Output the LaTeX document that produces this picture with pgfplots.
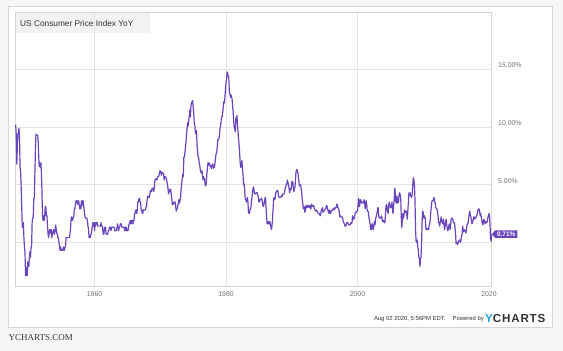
\documentclass[border=0pt]{standalone}
\usepackage{fontspec}
\setmainfont{Liberation Sans}
\newfontfamily\serifft{Liberation Serif}
\usepackage{pgfplots}
\pgfplotsset{compat=1.18}
\usetikzlibrary{shapes.symbols}
\definecolor{cpi}{HTML}{6A46BC}
\definecolor{gridc}{HTML}{E4E4E4}
\definecolor{framec}{HTML}{D6D6D6}
\definecolor{bgc}{HTML}{F6F6F6}
\definecolor{tickc}{HTML}{727272}
\definecolor{titlebg}{HTML}{F2F2F2}
\definecolor{yc}{HTML}{22A6D8}
\definecolor{txt}{HTML}{333333}
\begin{document}
\begin{tikzpicture}[x=1pt,y=1pt]
\useasboundingbox (0,0) rectangle (563,351);
\fill[bgc] (0,0) rectangle (563,351);
\filldraw[fill=white, draw=framec, line width=0.8pt] (8.5,24) rectangle (552.5,345);
\fill[titlebg] (15.7,318) rectangle (150,339);
\node[anchor=west, inner sep=0, font=\fontsize{8.3}{10}\selectfont, text=txt] at (20,327) {US Consumer Price Index YoY};
\begin{axis}[
  at={(15.7pt,65pt)}, anchor=south west, scale only axis,
  width=476pt, height=274pt,
  xmin=1948, xmax=2020.42, ymin=-3.8, ymax=20,
  clip=false,
  axis line style={draw=framec, line width=0.6pt},
  xtick={1960,1980,2000}, xticklabels={1960,1980,2000},
  extra x ticks={2020}, extra x tick labels={2020},
  extra x tick style={grid=none},
  ytick={0,5,10,15},
  yticklabels={{},{5.00\%},{10.00\%},{15.00\%}},
  major tick length=0pt,
  grid=major, major grid style={gridc, line width=0.6pt},
  yticklabel pos=right,
  ticklabel style={font=\fontsize{6.9}{8}\selectfont, text=tickc},
  yticklabel style={anchor=west, xshift=3pt, yshift=4pt},
  xticklabel style={yshift=-2.5pt},
  /pgf/number format/assume math mode=true,
]
\addplot[cpi, line width=1.2pt, line join=round, no markers] table[row sep=\\, x expr=1948+\coordindex/12, y index=0] {
y\\
10.2\\ 9.3\\ 6.8\\ 8.3\\ 9.4\\ 9.5\\ 9.9\\ 9.0\\ 6.5\\ 6.1\\ 4.8\\ 3.0\\
1.3\\ 1.3\\ 1.7\\ 0.4\\ -0.4\\ -0.9\\ -2.9\\ -2.9\\ -2.2\\ -2.9\\ -1.7\\ -2.1\\
-2.1\\ -1.3\\ -0.8\\ -1.3\\ -0.4\\ -0.4\\ 1.7\\ 2.1\\ 2.1\\ 3.8\\ 3.8\\ 5.9\\
8.1\\ 9.4\\ 9.3\\ 9.3\\ 9.3\\ 8.8\\ 7.5\\ 6.6\\ 6.9\\ 6.5\\ 6.9\\ 6.0\\
4.3\\ 2.3\\ 1.9\\ 2.3\\ 1.9\\ 2.3\\ 3.1\\ 3.1\\ 2.3\\ 2.3\\ 1.5\\ 0.8\\
0.4\\ 0.8\\ 1.1\\ 0.8\\ 1.1\\ 1.1\\ 0.4\\ 0.8\\ 0.8\\ 1.1\\ 0.8\\ 0.7\\
1.1\\ 1.5\\ 1.1\\ 0.8\\ 0.7\\ 0.4\\ 0.4\\ 0.0\\ -0.4\\ -0.7\\ -0.4\\ -0.7\\
-0.7\\ -0.7\\ -0.7\\ -0.4\\ -0.7\\ -0.7\\ -0.4\\ -0.4\\ 0.4\\ 0.4\\ 0.4\\ 0.4\\
0.4\\ 0.4\\ 0.4\\ 0.7\\ 1.1\\ 1.9\\ 2.2\\ 1.9\\ 1.9\\ 2.2\\ 2.2\\ 2.9\\
2.9\\ 3.3\\ 3.6\\ 3.6\\ 3.6\\ 3.3\\ 3.6\\ 3.6\\ 3.2\\ 2.9\\ 3.2\\ 2.9\\
3.6\\ 3.2\\ 3.6\\ 3.6\\ 3.2\\ 2.8\\ 2.4\\ 2.1\\ 2.1\\ 2.1\\ 2.1\\ 1.8\\
1.4\\ 1.1\\ 0.4\\ 0.4\\ 0.4\\ 0.7\\ 0.7\\ 1.1\\ 1.4\\ 1.7\\ 1.4\\ 1.7\\
1.0\\ 1.7\\ 1.4\\ 1.7\\ 1.7\\ 1.7\\ 1.4\\ 1.4\\ 1.4\\ 1.4\\ 1.4\\ 1.4\\
1.7\\ 1.4\\ 1.4\\ 1.0\\ 0.7\\ 0.7\\ 1.3\\ 1.0\\ 1.3\\ 0.7\\ 0.7\\ 0.7\\
0.7\\ 1.0\\ 1.0\\ 1.3\\ 1.3\\ 1.3\\ 1.0\\ 1.3\\ 1.3\\ 1.3\\ 1.3\\ 1.3\\
1.3\\ 1.0\\ 1.0\\ 1.0\\ 1.0\\ 1.3\\ 1.6\\ 1.3\\ 1.0\\ 1.3\\ 1.3\\ 1.6\\
1.6\\ 1.6\\ 1.3\\ 1.3\\ 1.3\\ 1.3\\ 1.3\\ 1.0\\ 1.3\\ 1.0\\ 1.3\\ 1.0\\
1.0\\ 1.0\\ 1.3\\ 1.6\\ 1.6\\ 1.9\\ 1.6\\ 1.9\\ 1.6\\ 1.9\\ 1.6\\ 1.9\\
1.9\\ 2.5\\ 2.5\\ 2.8\\ 2.8\\ 2.5\\ 2.8\\ 3.5\\ 3.5\\ 3.8\\ 3.8\\ 3.5\\
3.5\\ 2.8\\ 2.8\\ 2.5\\ 2.5\\ 2.8\\ 2.8\\ 2.8\\ 2.8\\ 2.8\\ 3.1\\ 3.1\\
3.7\\ 4.0\\ 4.0\\ 3.9\\ 3.9\\ 4.2\\ 4.5\\ 4.4\\ 4.4\\ 4.7\\ 4.7\\ 4.7\\
4.4\\ 4.7\\ 5.3\\ 5.5\\ 5.5\\ 5.5\\ 5.4\\ 5.7\\ 5.7\\ 5.7\\ 5.9\\ 6.2\\
6.2\\ 6.1\\ 5.8\\ 6.1\\ 6.0\\ 6.0\\ 6.0\\ 5.4\\ 5.7\\ 5.7\\ 5.6\\ 5.6\\
5.3\\ 5.0\\ 4.7\\ 4.2\\ 4.4\\ 4.6\\ 4.4\\ 4.6\\ 4.1\\ 3.8\\ 3.3\\ 3.3\\
3.3\\ 3.5\\ 3.5\\ 3.5\\ 3.2\\ 2.7\\ 2.9\\ 2.9\\ 3.2\\ 3.4\\ 3.7\\ 3.4\\
3.6\\ 3.9\\ 4.6\\ 5.1\\ 5.5\\ 5.9\\ 5.7\\ 7.4\\ 7.4\\ 7.8\\ 8.3\\ 8.7\\
9.4\\ 10.0\\ 10.4\\ 10.1\\ 10.7\\ 10.9\\ 11.5\\ 10.9\\ 11.9\\ 12.1\\ 12.2\\ 12.3\\
11.8\\ 11.2\\ 10.3\\ 10.2\\ 9.5\\ 9.4\\ 9.7\\ 8.6\\ 7.9\\ 7.4\\ 7.4\\ 6.9\\
6.7\\ 6.3\\ 6.1\\ 6.0\\ 6.2\\ 5.9\\ 5.4\\ 5.7\\ 5.5\\ 5.5\\ 4.9\\ 4.9\\
5.2\\ 5.9\\ 6.4\\ 6.9\\ 6.7\\ 6.9\\ 6.8\\ 6.6\\ 6.6\\ 6.4\\ 6.7\\ 6.7\\
6.8\\ 6.4\\ 6.6\\ 6.5\\ 7.0\\ 7.4\\ 7.7\\ 7.8\\ 8.3\\ 8.9\\ 8.9\\ 9.0\\
9.3\\ 9.9\\ 10.1\\ 10.5\\ 10.9\\ 10.9\\ 11.3\\ 11.8\\ 12.2\\ 12.1\\ 12.6\\ 13.3\\
13.9\\ 14.2\\ 14.8\\ 14.7\\ 14.4\\ 14.4\\ 13.1\\ 12.9\\ 12.6\\ 12.8\\ 12.6\\ 12.5\\
11.8\\ 11.4\\ 10.5\\ 10.0\\ 9.8\\ 9.6\\ 10.8\\ 10.8\\ 11.0\\ 10.1\\ 9.6\\ 8.9\\
8.4\\ 7.6\\ 6.8\\ 6.5\\ 6.7\\ 7.1\\ 6.4\\ 5.9\\ 5.0\\ 5.1\\ 4.6\\ 3.8\\
3.7\\ 3.5\\ 3.6\\ 3.9\\ 3.5\\ 2.6\\ 2.5\\ 2.6\\ 2.9\\ 2.9\\ 3.3\\ 3.8\\
4.2\\ 4.6\\ 4.8\\ 4.6\\ 4.2\\ 4.2\\ 4.2\\ 4.3\\ 4.3\\ 4.3\\ 4.1\\ 3.9\\
3.5\\ 3.5\\ 3.7\\ 3.7\\ 3.8\\ 3.8\\ 3.6\\ 3.3\\ 3.1\\ 3.2\\ 3.5\\ 3.8\\
3.9\\ 3.1\\ 2.2\\ 1.6\\ 1.6\\ 1.8\\ 1.6\\ 1.6\\ 1.8\\ 1.5\\ 1.3\\ 1.1\\
1.5\\ 2.1\\ 3.0\\ 3.8\\ 3.9\\ 3.7\\ 3.9\\ 4.3\\ 4.4\\ 4.5\\ 4.5\\ 4.4\\
4.0\\ 3.9\\ 3.9\\ 3.9\\ 3.9\\ 4.0\\ 4.1\\ 4.0\\ 4.2\\ 4.2\\ 4.2\\ 4.4\\
4.7\\ 4.8\\ 5.0\\ 5.1\\ 5.4\\ 5.2\\ 5.0\\ 4.7\\ 4.3\\ 4.5\\ 4.7\\ 4.6\\
5.2\\ 5.3\\ 5.2\\ 4.7\\ 4.4\\ 4.7\\ 4.8\\ 5.6\\ 6.2\\ 6.3\\ 6.3\\ 6.1\\
5.7\\ 5.3\\ 4.9\\ 4.9\\ 5.0\\ 4.7\\ 4.4\\ 3.8\\ 3.4\\ 2.9\\ 3.0\\ 3.1\\
2.6\\ 2.8\\ 3.2\\ 3.2\\ 3.0\\ 3.1\\ 3.2\\ 3.1\\ 3.0\\ 3.2\\ 3.0\\ 2.9\\
3.3\\ 3.2\\ 3.1\\ 3.2\\ 3.2\\ 3.0\\ 2.8\\ 2.8\\ 2.7\\ 2.8\\ 2.7\\ 2.7\\
2.5\\ 2.5\\ 2.5\\ 2.4\\ 2.3\\ 2.5\\ 2.8\\ 2.9\\ 3.0\\ 2.6\\ 2.7\\ 2.7\\
2.8\\ 2.9\\ 2.9\\ 3.1\\ 3.2\\ 3.0\\ 2.8\\ 2.6\\ 2.5\\ 2.8\\ 2.6\\ 2.5\\
2.7\\ 2.7\\ 2.8\\ 2.9\\ 2.9\\ 2.8\\ 3.0\\ 2.9\\ 3.0\\ 3.0\\ 3.3\\ 3.3\\
3.0\\ 3.0\\ 2.8\\ 2.5\\ 2.2\\ 2.3\\ 2.2\\ 2.2\\ 2.2\\ 2.1\\ 1.8\\ 1.7\\
1.6\\ 1.4\\ 1.4\\ 1.4\\ 1.7\\ 1.7\\ 1.7\\ 1.6\\ 1.5\\ 1.5\\ 1.5\\ 1.6\\
1.7\\ 1.6\\ 1.7\\ 2.3\\ 2.1\\ 2.0\\ 2.1\\ 2.3\\ 2.6\\ 2.6\\ 2.6\\ 2.7\\
2.7\\ 3.2\\ 3.8\\ 3.1\\ 3.2\\ 3.7\\ 3.7\\ 3.4\\ 3.5\\ 3.4\\ 3.4\\ 3.4\\
3.7\\ 3.5\\ 2.9\\ 3.3\\ 3.6\\ 3.2\\ 2.7\\ 2.7\\ 2.6\\ 2.1\\ 1.9\\ 1.6\\
1.1\\ 1.1\\ 1.5\\ 1.6\\ 1.2\\ 1.1\\ 1.5\\ 1.8\\ 1.5\\ 2.0\\ 2.2\\ 2.4\\
2.6\\ 3.0\\ 3.0\\ 2.2\\ 2.1\\ 2.1\\ 2.1\\ 2.2\\ 2.3\\ 2.0\\ 1.8\\ 1.9\\
1.9\\ 1.7\\ 1.7\\ 2.3\\ 3.1\\ 3.3\\ 3.0\\ 2.7\\ 2.5\\ 3.2\\ 3.5\\ 3.3\\
3.0\\ 3.0\\ 3.1\\ 3.5\\ 2.8\\ 2.5\\ 3.2\\ 3.6\\ 4.7\\ 4.3\\ 3.5\\ 3.4\\
4.0\\ 3.6\\ 3.4\\ 3.5\\ 4.2\\ 4.3\\ 4.1\\ 3.8\\ 2.1\\ 1.3\\ 2.0\\ 2.5\\
2.1\\ 2.4\\ 2.8\\ 2.6\\ 2.7\\ 2.7\\ 2.4\\ 2.0\\ 2.8\\ 3.5\\ 4.3\\ 4.1\\
4.3\\ 4.0\\ 4.0\\ 3.9\\ 4.2\\ 5.0\\ 5.6\\ 5.4\\ 4.9\\ 3.7\\ 1.1\\ 0.1\\
0.0\\ 0.2\\ -0.4\\ -0.6\\ -1.3\\ -1.4\\ -2.1\\ -1.5\\ -1.3\\ -0.2\\ 1.8\\ 2.7\\
2.6\\ 2.1\\ 2.3\\ 2.2\\ 2.0\\ 1.1\\ 1.2\\ 1.1\\ 1.1\\ 1.2\\ 1.1\\ 1.5\\
1.6\\ 2.1\\ 2.7\\ 3.2\\ 3.6\\ 3.6\\ 3.6\\ 3.8\\ 3.9\\ 3.5\\ 3.4\\ 3.0\\
2.9\\ 2.9\\ 2.7\\ 2.3\\ 1.7\\ 1.7\\ 1.4\\ 1.7\\ 2.0\\ 2.2\\ 1.8\\ 1.7\\
1.6\\ 2.0\\ 1.5\\ 1.1\\ 1.4\\ 1.8\\ 2.0\\ 1.5\\ 1.2\\ 1.0\\ 1.2\\ 1.5\\
1.6\\ 1.1\\ 1.5\\ 2.0\\ 2.1\\ 2.1\\ 2.0\\ 1.7\\ 1.7\\ 1.7\\ 1.3\\ 0.8\\
-0.1\\ 0.0\\ -0.1\\ -0.2\\ 0.0\\ 0.1\\ 0.2\\ 0.2\\ 0.0\\ 0.2\\ 0.5\\ 0.7\\
1.4\\ 1.0\\ 0.9\\ 1.1\\ 1.0\\ 1.0\\ 0.8\\ 1.1\\ 1.5\\ 1.6\\ 1.7\\ 2.1\\
2.5\\ 2.7\\ 2.4\\ 2.2\\ 1.9\\ 1.6\\ 1.7\\ 1.9\\ 2.2\\ 2.0\\ 2.2\\ 2.1\\
2.1\\ 2.2\\ 2.4\\ 2.5\\ 2.8\\ 2.9\\ 2.9\\ 2.7\\ 2.3\\ 2.5\\ 2.2\\ 1.9\\
1.6\\ 1.5\\ 1.9\\ 2.0\\ 1.8\\ 1.6\\ 1.8\\ 1.7\\ 1.7\\ 1.8\\ 2.1\\ 2.3\\
2.5\\ 2.3\\ 1.5\\ 0.3\\ 0.1\\ 0.71\\
};
\node[signal, signal to=west, signal pointer angle=100, fill=cpi, text=white,
  font=\bfseries\fontsize{6.5}{7}\selectfont, inner xsep=2pt, inner ysep=1.4pt,
  anchor=west] at (axis cs:2020.42,0.71) {0.71\%};
\end{axis}
\node[anchor=east, inner sep=0, font=\fontsize{5.9}{7}\selectfont, text=txt] at (445.7,32) {Aug 02 2020, 5:56PM EDT.};
\node[anchor=east, inner sep=0, font=\fontsize{5.9}{7}\selectfont, text=txt] at (484,32) {Powered by};
\node[anchor=west, inner sep=0, font=\bfseries\fontsize{11.6}{12}\selectfont\addfontfeature{LetterSpace=7}] at (485,32) {\textcolor{yc}{Y}\textcolor{txt}{CHARTS}};
\node[anchor=west, inner sep=0, font=\serifft\fontsize{9}{10}\selectfont, text=txt] at (8.5,13) {YCHARTS.COM};
\end{tikzpicture}
\end{document}
